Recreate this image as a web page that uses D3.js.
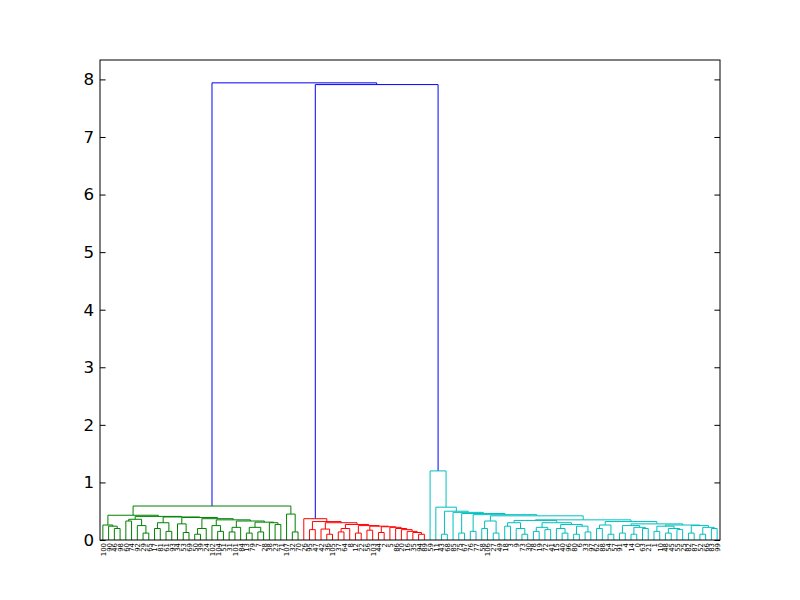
<!DOCTYPE html>
<html><head><meta charset="utf-8">
<script src="https://cdn.jsdelivr.net/npm/d3@7"></script>
<style>body{margin:0;background:#fff}</style>
</head><body>
<svg id="chart" width="800" height="600"></svg>
<script>
// Leaf labels in dendrogram order (left to right)
const leafLabels = [
  100,90,46,98,60,74,92,29,65,17,81,61,93,34,53,69,50,39,24,102,104,51,31,101,84,13,79,7,28,38,23,71,107,32,70,
  26,95,47,42,36,105,37,64,8,12,22,56,103,44,2,5,86,20,16,35,94,89,
  59,11,43,68,85,75,67,76,77,58,106,27,49,18,3,9,73,30,78,19,72,41,15,40,96,80,6,33,97,62,88,54,57,91,4,14,0,63,21,1,10,48,45,55,25,82,87,52,66,83,99
];
// Merges: [firstLeaf, lastLeaf, firstLeafOfRightChild, height]
const greenMerges = [
  [33,34,34,0.14],[32,34,33,0.45],
  [2,3,3,0.20],[1,3,2,0.24],[0,3,1,0.26],
  [4,5,5,0.33],[7,8,8,0.12],[6,8,7,0.25],[4,8,6,0.36],
  [9,10,10,0.20],[11,12,12,0.15],[9,12,11,0.30],
  [14,15,15,0.13],[13,15,14,0.28],
  [16,17,17,0.10],[16,18,18,0.20],
  [20,21,21,0.15],[19,21,20,0.25],
  [22,23,23,0.14],[22,24,24,0.22],
  [25,26,26,0.12],[27,28,28,0.14],[25,28,27,0.22],
  [30,31,31,0.27],[29,31,30,0.30],
  [25,31,29,0.31],[22,31,25,0.33],[19,31,22,0.35],[16,31,19,0.37],
  [13,31,16,0.39],[9,31,13,0.40],[4,31,9,0.41],[0,31,4,0.43],
  [0,34,32,0.59]
];
const redMerges = [
  [55,56,56,0.10],[54,56,55,0.13],[53,56,54,0.15],[52,56,53,0.18],
  [51,56,52,0.20],[50,56,51,0.22],[48,49,49,0.13],[48,56,50,0.23],
  [46,47,47,0.17],[46,56,48,0.24],[44,45,45,0.12],[44,56,46,0.25],
  [41,42,42,0.14],[41,43,43,0.20],[41,56,44,0.27],
  [39,40,40,0.10],[38,40,39,0.19],[38,56,41,0.30],
  [36,37,37,0.18],[36,56,38,0.32],[35,56,36,0.37]
];
const cyanMerges = [
  [70,71,71,0.24],[73,74,74,0.10],[72,74,73,0.20],[70,74,72,0.30],
  [75,76,76,0.15],[77,78,78,0.18],[75,78,77,0.22],
  [80,81,81,0.12],[79,81,80,0.20],[82,83,83,0.10],[84,85,85,0.14],[82,85,84,0.24],[79,85,82,0.27],
  [75,85,79,0.30],[70,85,75,0.34],
  [86,87,87,0.20],[88,89,89,0.10],[86,89,88,0.26],
  [90,91,91,0.12],[92,93,93,0.10],[94,95,95,0.20],[92,95,94,0.22],[90,95,92,0.25],
  [96,97,97,0.15],[98,99,99,0.12],[100,101,101,0.18],[98,101,100,0.20],[96,101,98,0.24],
  [102,103,103,0.12],[104,105,105,0.10],[106,107,107,0.20],[104,107,106,0.22],[102,107,104,0.25],
  [96,107,102,0.26],[90,107,96,0.28],[86,107,90,0.32],[70,107,86,0.35],
  [66,67,67,0.20],[68,69,69,0.12],[66,69,68,0.33],
  [66,107,70,0.42],[64,65,65,0.15],[64,107,66,0.44],
  [62,63,63,0.12],[62,107,64,0.46],[61,107,62,0.48],
  [59,60,60,0.10],[59,107,61,0.50],[58,107,59,0.57],[57,107,58,1.20]
];
const topMerges = [
  [35,107,57,7.91],[0,107,35,7.94]
];
const yTicks = [0,1,2,3,4,5,6,7,8];

const colors = {green:"#008000", red:"#ff0000", cyan:"#00bfbf", top:"#0000ff"};
const W = 800, H = 600, L = 100, R = 720, T = 60, B = 540;
const n = leafLabels.length;

const lookup = new Map();
[[greenMerges,"green"],[redMerges,"red"],[cyanMerges,"cyan"],[topMerges,"top"]].forEach(([arr,c]) => {
  arr.forEach(m => lookup.set(m[0]+"-"+m[1], {split:m[2], h:m[3], color:c}));
});
function build(a, b) {
  if (a === b) return {leaf: a, h: 0};
  const m = lookup.get(a+"-"+b);
  return {h: m.h, color: m.color, children: [build(a, m.split-1), build(m.split, b)]};
}
const root = d3.hierarchy(build(0, n-1));
const maxH = root.data.h;

const x = d3.scaleLinear().domain([0, n*10]).range([L, R]);
const y = d3.scaleLinear().domain([0, maxH*1.05]).range([B, T]);

root.eachAfter(d => {
  if (d.children) d.px = (d.children[0].px + d.children[1].px) / 2;
  else d.px = x(5 + 10*d.data.leaf);
  d.py = y(d.data.h);
});

const svg = d3.select("#chart");
svg.append("rect").attr("width",W).attr("height",H).attr("fill","#fff");

const links = root.descendants().filter(d => d.children);
svg.append("g").selectAll("path").data(links).join("path")
  .attr("fill","none")
  .attr("stroke", d => colors[d.data.color])
  .attr("stroke-width",1)
  .attr("d", d => {
    const [l, r] = d.children;
    return `M${l.px},${l.py}V${d.py}H${r.px}V${r.py}`;
  });

// frame
svg.append("rect").attr("x",L).attr("y",T).attr("width",R-L).attr("height",B-T)
  .attr("fill","none").attr("stroke","#000").attr("stroke-width",1);

// y axis left
const yl = svg.append("g").attr("transform",`translate(${L},0)`)
  .call(d3.axisLeft(y).tickValues(yTicks).tickSizeInner(-5.6).tickSizeOuter(0).tickPadding(6).tickFormat(d3.format("d")));
yl.select(".domain").remove();
yl.selectAll("text").attr("font-family","DejaVu Sans").attr("font-size","16.7px").attr("fill","#000");
yl.selectAll("line").attr("stroke","#000");
// y axis right ticks
const yr = svg.append("g").attr("transform",`translate(${R},0)`)
  .call(d3.axisRight(y).tickValues(yTicks).tickSizeInner(-5.6).tickSizeOuter(0).tickFormat(""));
yr.select(".domain").remove();
yr.selectAll("line").attr("stroke","#000");

// x axis leaf labels
const xa = svg.append("g").attr("transform",`translate(0,${B})`)
  .call(d3.axisBottom(x).tickValues(d3.range(n).map(i => 5 + 10*i)).tickSize(0)
    .tickFormat((d,i) => leafLabels[i]));
xa.select(".domain").remove();
xa.selectAll("text")
  .attr("font-family","DejaVu Sans").attr("font-size","6.9px").attr("fill","#000")
  .attr("transform","rotate(-90)").attr("text-anchor","end")
  .attr("x",-3).attr("y",0).attr("dy","0.35em");
</script>
</body></html>
